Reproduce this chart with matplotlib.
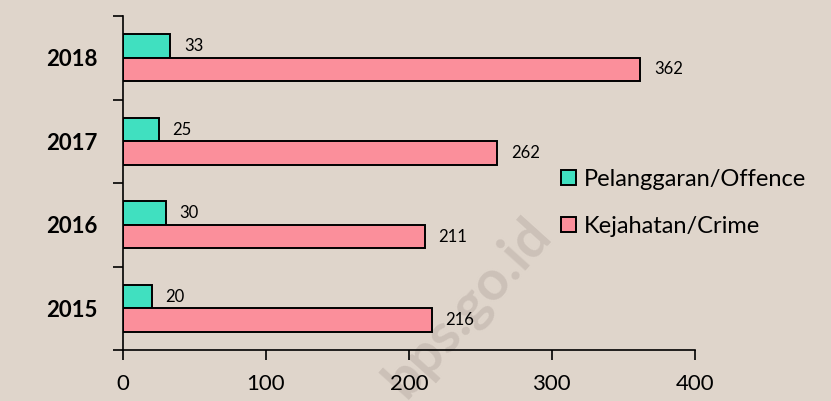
import numpy as np
import matplotlib.pyplot as plt

years = ["2015", "2016", "2017", "2018"]
offence = [20, 30, 25, 33]
crime = [216, 211, 262, 362]
label_offence = "Pelanggaran/Offence"
label_crime = "Kejahatan/Crime"

bg = "#DFD5CB"
c_off = "#40E0C0"
c_crime = "#FB8F9B"

plt.rcParams["font.family"] = ["Lato", "DejaVu Sans"]

fig = plt.figure(figsize=(8.31, 4.01), dpi=100, facecolor=bg)
ax = fig.add_axes([0.148, 0.127, 0.688, 0.833], facecolor=bg)

# watermark, behind the bars
ax.text(0.563, 0.235, "bps.go.id", transform=fig.transFigure, rotation=48,
        fontsize=40, fontweight="bold", color="#CCC1B8",
        ha="center", va="center", zorder=0.5, clip_on=False)

y = np.arange(len(years))
h = 0.28
b1 = ax.barh(y + h / 2, offence, height=h, color=c_off, edgecolor="black",
             linewidth=1.4, label=label_offence, zorder=2)
b2 = ax.barh(y - h / 2, crime, height=h, color=c_crime, edgecolor="black",
             linewidth=1.4, label=label_crime, zorder=2)

for bars, vals in ((b1, offence), (b2, crime)):
    for r, v in zip(bars, vals):
        ax.annotate(str(v), (v, r.get_y() + r.get_height() / 2),
                    xytext=(10, 0), textcoords="offset points",
                    va="center", ha="left", fontsize=12)

ax.set_xlim(0, 400)
ax.set_ylim(-0.5, len(years) - 0.5)
ax.set_xticks([0, 100, 200, 300, 400])
ax.tick_params(axis="x", labelsize=16, length=7, width=1.2, pad=10)
ax.set_yticks(y)
ax.set_yticklabels(years, fontsize=16, fontweight="bold")
ax.set_yticks(np.arange(-0.5, len(years)), minor=True)
ax.tick_params(axis="y", which="major", length=0, pad=18)
ax.tick_params(axis="y", which="minor", length=7, width=1.2)

for s in ("top", "right"):
    ax.spines[s].set_visible(False)
for s in ("left", "bottom"):
    ax.spines[s].set_linewidth(1.2)

fig.legend(handles=[b1, b2], loc="upper left", bbox_to_anchor=(0.664, 0.603),
           frameon=False, fontsize=17, handlelength=0.64, handleheight=0.64,
           handletextpad=0.3, labelspacing=1.1, borderaxespad=0)

fig.savefig("out.png", dpi=100, facecolor=bg)
